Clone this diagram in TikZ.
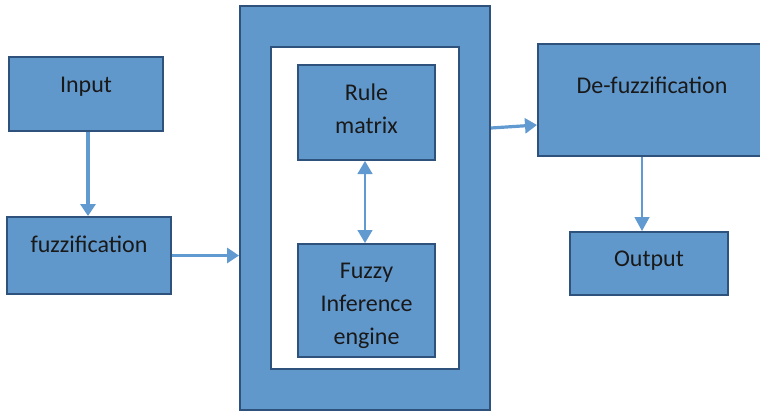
\documentclass[tikz,border=0pt]{standalone}
\usepackage{fontspec}
\setmainfont{Carlito}
\usetikzlibrary{arrows.meta}
\definecolor{boxfill}{RGB}{97,152,204}
\definecolor{boxline}{RGB}{46,82,124}
\definecolor{arrowc}{RGB}{96,154,208}
\tikzset{
  blk/.style={draw=boxline, fill=boxfill, line width=2pt, rectangle, inner sep=0pt},
  lbl/.style={font=\fontsize{24}{33}\selectfont, text=black!90, align=center, inner sep=0pt, anchor=base},
  thick arrow/.style={draw=arrowc, line width=3.2pt, -{Triangle[width=15pt,length=12pt]}},
  thin arrow/.style={draw=arrowc, line width=1.3pt, -{Triangle[width=15pt,length=14pt]}},
  both arrow/.style={draw=arrowc, line width=1.3pt, {Triangle[width=15pt,length=13pt]}-{Triangle[width=15pt,length=13pt]}}
}
\begin{document}
\begin{tikzpicture}[x=1pt, y=-1pt]
\useasboundingbox (0,0) rectangle (760,413);
\clip (0,0) rectangle (760,413);

% input and fuzzification stage
\node[blk, minimum width=154pt, minimum height=74pt] (input) at (86,94) {};
\node[lbl] (inputtxt) at (86,92) {Input};
\node[blk, minimum width=164pt, minimum height=77pt] (fuzz) at (89,255.5) {};
\node[lbl] (fuzztxt) at (89,252) {fuzzification};

% inference block with its white inner panel
\node[blk, minimum width=250pt, minimum height=404pt] (core) at (365,208) {};
\node[draw=boxline, fill=white, line width=2pt, minimum width=188pt, minimum height=322pt, inner sep=0pt] (panel) at (365,208) {};
\node[blk, minimum width=137pt, minimum height=95pt] (rule) at (366.5,112.5) {};
\node[lbl] (ruletxt) at (366.5,133) {Rule\\matrix};
\node[blk, minimum width=137pt, minimum height=113pt] (fie) at (366.5,300.5) {};
\node[lbl] (fietxt) at (366.5,344) {Fuzzy\\Inference\\engine};

% de-fuzzification (runs past the right edge) and output
\node[blk, minimum width=228pt, minimum height=112pt] (defuzz) at (652,100) {};
\node[lbl] (defuzztxt) at (652,93) {De-fuzzification};
\node[blk, minimum width=158pt, minimum height=63pt] (output) at (649,263.5) {};
\node[lbl] (outputtxt) at (649,266) {Output};

% connectors
\draw[thick arrow] ([xshift=2pt]input.south) -- ([xshift=-1pt]fuzz.north);
\draw[thick arrow] (fuzz.east) -- (fuzz.east -| core.west);
\draw[thick arrow] ([yshift=80pt]core.east) -- ([yshift=-25pt]defuzz.west);
\draw[both arrow] ([xshift=-1.5pt]rule.south) -- ([xshift=-1.5pt]fie.north);
\draw[thin arrow] ([xshift=-10pt]defuzz.south) -- ([xshift=-7pt]output.north);
\end{tikzpicture}
\end{document}
